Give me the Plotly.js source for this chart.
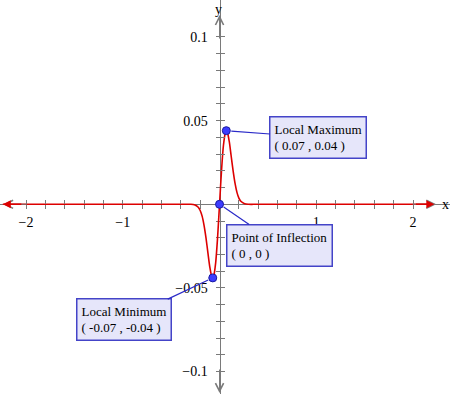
<!DOCTYPE html>
<html>
<head>
<meta charset="utf-8">
<script src="https://cdn.plot.ly/plotly-3.0.1.min.js"></script>
<style>html,body{margin:0;padding:0;background:#fff;}#chart{width:450px;height:394px;}</style>
</head>
<body>
<div id="chart"></div>
<script>
// curve values
var curveX = [-2.24, -0.4, -0.3, -0.26, -0.22, -0.2, -0.18, -0.16, -0.14, -0.12, -0.1, -0.08, -0.07, -0.06, -0.04, -0.02, 0,
              0.02, 0.04, 0.06, 0.07, 0.08, 0.1, 0.12, 0.14, 0.16, 0.18, 0.2, 0.22, 0.26, 0.3, 0.4, 2.22];
var curveY = [0, 0, 0, -0.0003, -0.0018, -0.0037, -0.0071, -0.0126, -0.0201, -0.029, -0.0377, -0.0433, -0.044, -0.0428, -0.035, -0.0197, 0,
              0.0197, 0.035, 0.0428, 0.044, 0.0433, 0.0377, 0.029, 0.0201, 0.0126, 0.0071, 0.0037, 0.0018, 0.0003, 0, 0, 0];
// special points
var pointNames = ['Local Maximum', 'Point of Inflection', 'Local Minimum'];
var pointX = [0.07, 0, -0.07];
var pointY = [0.044, 0, -0.044];
var pointLabels = ['( 0.07 , 0.04 )', '( 0 , 0 )', '( -0.07 , -0.04 )'];
// axis ticks
var xTickVals = [-2, -1, 1, 2];
var xTickText = ['\u22122', '\u22121', '1', '2'];
var yTickVals = [-0.1, -0.05, 0.05, 0.1];
var yTickText = ['\u22120.1', '\u22120.05', '0.05', '0.1'];
var xMinorStep = 0.2, yMinorStep = 0.01;

var xMinor = [], yMinor = [];
for (var k = -10; k <= 10; k++) { if (k !== 0) xMinor.push(+(k * xMinorStep).toFixed(4)); if (k !== 0) yMinor.push(+(k * yMinorStep).toFixed(4)); }

var xRange = [-2.269, 2.382];
var yRange = [-0.1134, 0.1221];
var xPos = (0 - xRange[0]) / (xRange[1] - xRange[0]);
var yPos = (0 - yRange[0]) / (yRange[1] - yRange[0]);

var font = {family: 'Liberation Serif, Times New Roman, serif', size: 13, color: '#000'};
var tickFont = {family: 'Liberation Serif, Times New Roman, serif', size: 14, color: '#000'};
var axisGray = '#7a7a7a';

var traces = [
  {x: curveX, y: curveY, mode: 'lines', line: {color: '#dd0000', width: 1.6, shape: 'spline', smoothing: 0.8},
   hoverinfo: 'skip', showlegend: false},
  {x: pointX, y: pointY, mode: 'markers', marker: {size: 8, color: '#3c3cff', line: {color: '#1a1aa0', width: 1}},
   showlegend: false, cliponaxis: false},
  {x: [0], y: [0], xaxis: 'x2', yaxis: 'y2', mode: 'markers', marker: {opacity: 0}, hoverinfo: 'skip', showlegend: false}
];

var offsets = [[92, 7], [60, 41], [-89, 42]];
var ann = [];
for (var i = 0; i < pointNames.length; i++) {
  ann.push({x: pointX[i], y: pointY[i], xref: 'x', yref: 'y',
    text: pointNames[i] + '<br>' + pointLabels[i], align: 'left', font: font,
    showarrow: true, arrowhead: 0, arrowwidth: 1.2, arrowcolor: '#2a2ac8', standoff: 5,
    ax: offsets[i][0], ay: offsets[i][1],
    bgcolor: '#e6e6fa', bordercolor: '#4444c8', borderwidth: 1.5, borderpad: 4});
}
// axis arrowheads (gray open) and curve end arrowheads (red)
ann.push({x: -2.236, y: 0, ax: 25, ay: 0, text: '', showarrow: true, arrowhead: 5, arrowsize: 1.6, arrowwidth: 1, arrowcolor: axisGray});
ann.push({x: 2.24, y: 0, ax: -25, ay: 0, text: '', showarrow: true, arrowhead: 5, arrowsize: 1.6, arrowwidth: 1, arrowcolor: axisGray});
ann.push({x: 0, y: 0.1131, ax: 0, ay: 25, text: '', showarrow: true, arrowhead: 5, arrowsize: 1.6, arrowwidth: 1, arrowcolor: axisGray});
ann.push({x: 0, y: -0.1128, ax: 0, ay: -25, text: '', showarrow: true, arrowhead: 5, arrowsize: 1.6, arrowwidth: 1, arrowcolor: axisGray});
ann.push({x: curveX[0], y: 0, ax: 20, ay: 0, text: '', showarrow: true, arrowhead: 2, arrowsize: 1, arrowwidth: 1.6, arrowcolor: '#dd0000'});
ann.push({x: curveX[curveX.length - 1], y: 0, ax: -20, ay: 0, text: '', showarrow: true, arrowhead: 2, arrowsize: 1, arrowwidth: 1.6, arrowcolor: '#dd0000'});
// axis names
ann.push({x: 2.331, y: 0, text: 'x', showarrow: false, font: tickFont, xanchor: 'center', yanchor: 'middle'});
ann.push({x: -0.015, y: 0.1221, text: 'y', showarrow: false, font: tickFont, xanchor: 'center', yanchor: 'top'});

var commonX = {range: xRange, showgrid: false, zeroline: false, anchor: 'free', position: yPos, automargin: false,
  fixedrange: true};
var commonY = {range: yRange, showgrid: false, zeroline: false, anchor: 'free', position: xPos, automargin: false,
  fixedrange: true};

function minorX() { return {tickmode: 'array', tickvals: xMinor, ticks: 'outside', ticklen: 4, tickcolor: axisGray, showgrid: false}; }
function minorY() { return {tickmode: 'array', tickvals: yMinor, ticks: 'outside', ticklen: 4, tickcolor: axisGray, showgrid: false}; }

var layout = {
  width: 450, height: 394,
  margin: {l: 0, r: 0, t: 0, b: 0},
  paper_bgcolor: '#fff', plot_bgcolor: '#fff',
  font: font,
  showlegend: false,
  xaxis: Object.assign({}, commonX, {
    showline: true, linecolor: axisGray, linewidth: 1, layer: 'below traces',
    tickmode: 'array', tickvals: xTickVals, ticktext: xTickText, ticks: 'outside', ticklen: 4, tickcolor: axisGray,
    tickfont: tickFont, ticklabelstandoff: 1, minor: minorX()
  }),
  yaxis: Object.assign({}, commonY, {
    showline: true, linecolor: axisGray, linewidth: 1, layer: 'below traces',
    tickmode: 'array', tickvals: yTickVals, ticktext: yTickText, ticks: 'outside', ticklen: 4, tickcolor: axisGray,
    tickfont: tickFont, ticklabelstandoff: 5, minor: minorY()
  }),
  xaxis2: Object.assign({}, commonX, {
    overlaying: 'x', side: 'top', showline: false, showticklabels: false,
    tickmode: 'array', tickvals: xTickVals, ticks: 'outside', ticklen: 4, tickcolor: axisGray, minor: minorX()
  }),
  yaxis2: Object.assign({}, commonY, {
    overlaying: 'y', side: 'right', showline: false, showticklabels: false,
    tickmode: 'array', tickvals: yTickVals, ticks: 'outside', ticklen: 4, tickcolor: axisGray, minor: minorY()
  }),
  annotations: ann
};

Plotly.newPlot('chart', traces, layout, {displayModeBar: false, staticPlot: true});
</script>
</body>
</html>
